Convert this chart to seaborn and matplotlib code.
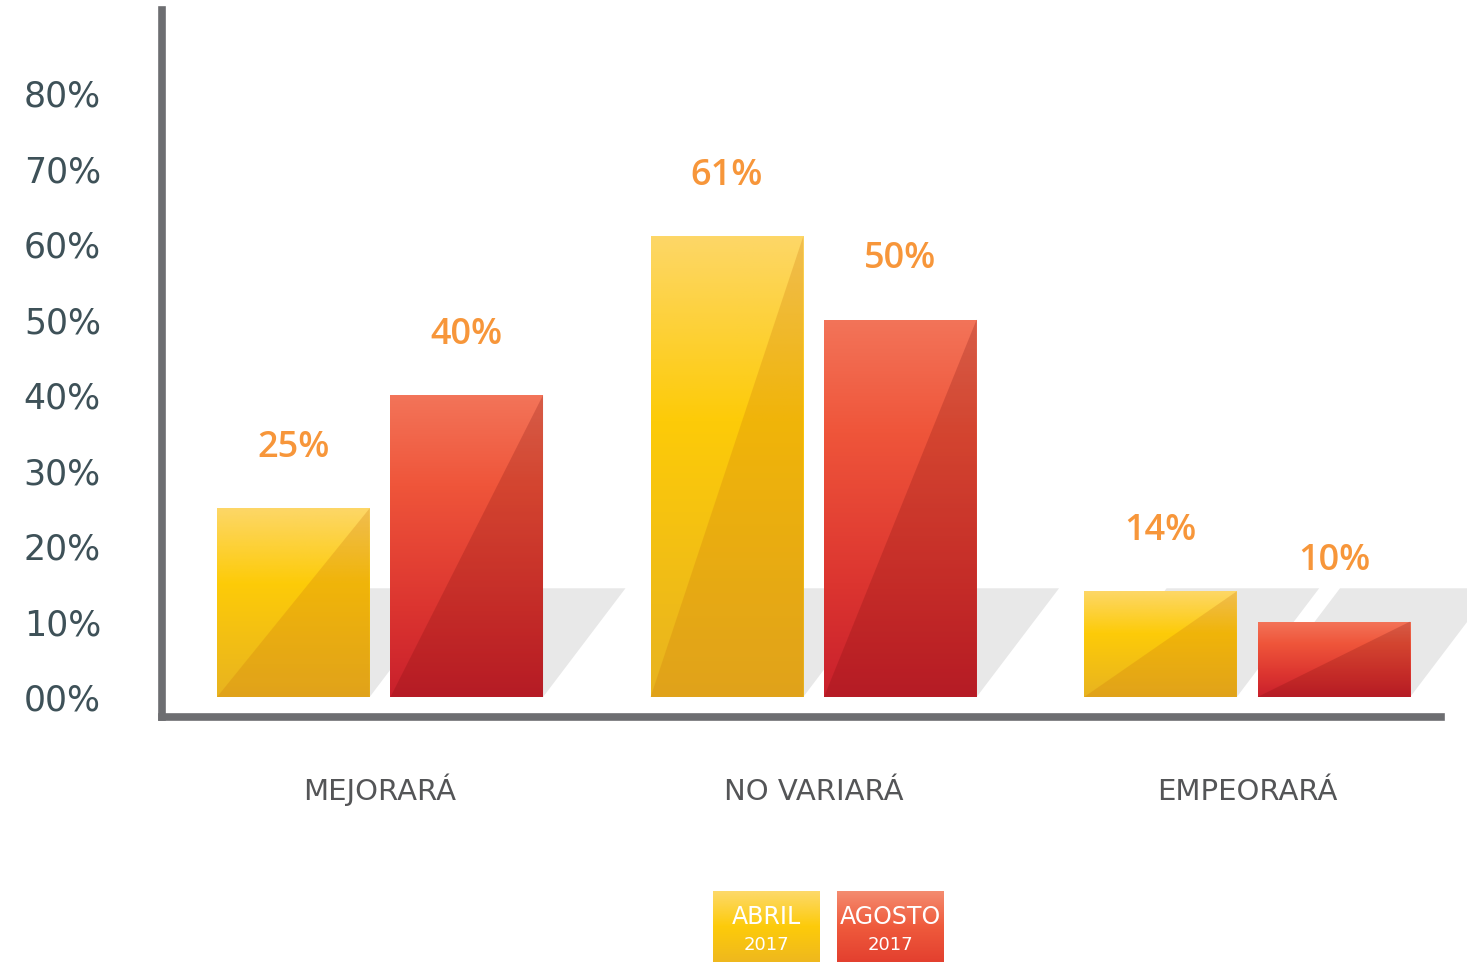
import matplotlib
matplotlib.use("Agg")
import matplotlib.pyplot as plt
import numpy as np
import pandas as pd
import seaborn as sns
from matplotlib.colors import LinearSegmentedColormap
from matplotlib.patches import Polygon

categorias = ["MEJORARÁ", "NO VARIARÁ", "EMPEORARÁ"]
periodos = ["ABRIL 2017", "AGOSTO 2017"]
leyenda = [("ABRIL", "2017"), ("AGOSTO", "2017")]
abril = [25, 61, 14]
agosto = [40, 50, 10]
yticks = [0, 10, 20, 30, 40, 50, 60, 70, 80]
ytick_labels = ["00%", "10%", "20%", "30%", "40%", "50%", "60%", "70%", "80%"]

df = pd.DataFrame({
    "categoria": categorias * 2,
    "periodo": [periodos[0]] * 3 + [periodos[1]] * 3,
    "valor": abril + agosto,
})

# colores
amarillo = LinearSegmentedColormap.from_list(
    "amarillo", [(0, "#FDD767"), (0.4, "#FDCB08"), (1, "#E8B320")])
rojo = LinearSegmentedColormap.from_list(
    "rojo", [(0, "#F37459"), (0.3, "#EF553A"), (0.7, "#DC3530"), (1, "#C9202C")])
leg_amarillo = LinearSegmentedColormap.from_list(
    "leg_amarillo", [(0, "#FDD96A"), (0.5, "#FDCB0A"), (1, "#EFB81E")])
leg_rojo = LinearSegmentedColormap.from_list(
    "leg_rojo", [(0, "#F48C70"), (0.5, "#EF5A3C"), (1, "#E3402F")])
overlays = [((0.80, 0.45, 0.05), 0.25), ((0.45, 0.05, 0.05), 0.22)]

sns.set_style("white")
plt.rcParams["font.family"] = ["DejaVu Sans"]

fig = plt.figure(figsize=(14.67, 9.63), dpi=100)
ax = fig.add_axes([162 / 1467, 1 - 717 / 963, 1279 / 1467, 707 / 963])

sns.barplot(data=df, x="categoria", y="valor", hue="periodo",
            palette=["#FDCB08", "#EF553A"], width=0.8, gap=0.12,
            saturation=1, errorbar=None, legend=False, ax=ax)

xlim = (-0.503, 2.447)
ylim = (-2.65, 91)
grad = np.linspace(0, 1, 256).reshape(-1, 1)

for container, cmap, (ocol, oalpha) in zip(ax.containers, [amarillo, rojo], overlays):
    for bar in container:
        x0, y0 = bar.get_x(), bar.get_y()
        w, h = bar.get_width(), bar.get_height()
        # sombra
        sombra = Polygon([(x0, y0), (x0 + w, y0), (x0 + w + 0.19, y0 + 14.4),
                          (x0 + 0.19, y0 + 14.4)], closed=True,
                         facecolor="#E8E8E8", edgecolor="none", zorder=0.5,
                         clip_on=False)
        ax.add_patch(sombra)
        im = ax.imshow(grad, cmap=cmap, extent=[x0, x0 + w, y0, y0 + h],
                       origin="upper", aspect="auto", zorder=2)
        im.set_clip_path(bar)
        bar.set_facecolor("none")
        bar.set_edgecolor("none")
        tri = Polygon([(x0, y0), (x0 + w, y0 + h), (x0 + w, y0)], closed=True,
                      facecolor=ocol, alpha=oalpha, edgecolor="none", zorder=3)
        ax.add_patch(tri)
        ax.text(x0 + w / 2, h + 8, f"{h:.0f}%", ha="center", va="center",
                fontsize=26, color="#F7963A", fontweight="semibold",
                family=["Open Sans", "DejaVu Sans"])

ax.set_xlim(*xlim)
ax.set_ylim(*ylim)

sns.despine(ax=ax, top=True, right=True)
for side in ["left", "bottom"]:
    ax.spines[side].set_linewidth(5.5)
    ax.spines[side].set_color("#6D6E71")
    ax.spines[side].set_zorder(4)

ax.set_yticks(yticks, ytick_labels)
ax.tick_params(axis="y", length=0, pad=44, labelsize=25, labelcolor="#3E5158")
ax.tick_params(axis="x", length=0, pad=60, labelsize=21, labelcolor="#545557")
for lbl in ax.get_xticklabels():
    lbl.set_verticalalignment("baseline")
ax.set_xlabel("")
ax.set_ylabel("")

# leyenda
for i, (cmap, (t1, t2)) in enumerate(zip([leg_amarillo, leg_rojo], leyenda)):
    left = [713, 837][i]
    lax = fig.add_axes([left / 1467, 1 - 962 / 963, 107 / 1467, 71 / 963])
    lax.imshow(grad, cmap=cmap, extent=[0, 1, 0, 1], origin="upper", aspect="auto")
    lax.set_xlim(0, 1)
    lax.set_ylim(0, 1)
    lax.axis("off")
    lax.text(0.5, 0.63, t1, ha="center", va="center", color="white", fontsize=17)
    lax.text(0.5, 0.24, t2, ha="center", va="center", color="white", fontsize=13)

fig.savefig("out.png", dpi=100)
